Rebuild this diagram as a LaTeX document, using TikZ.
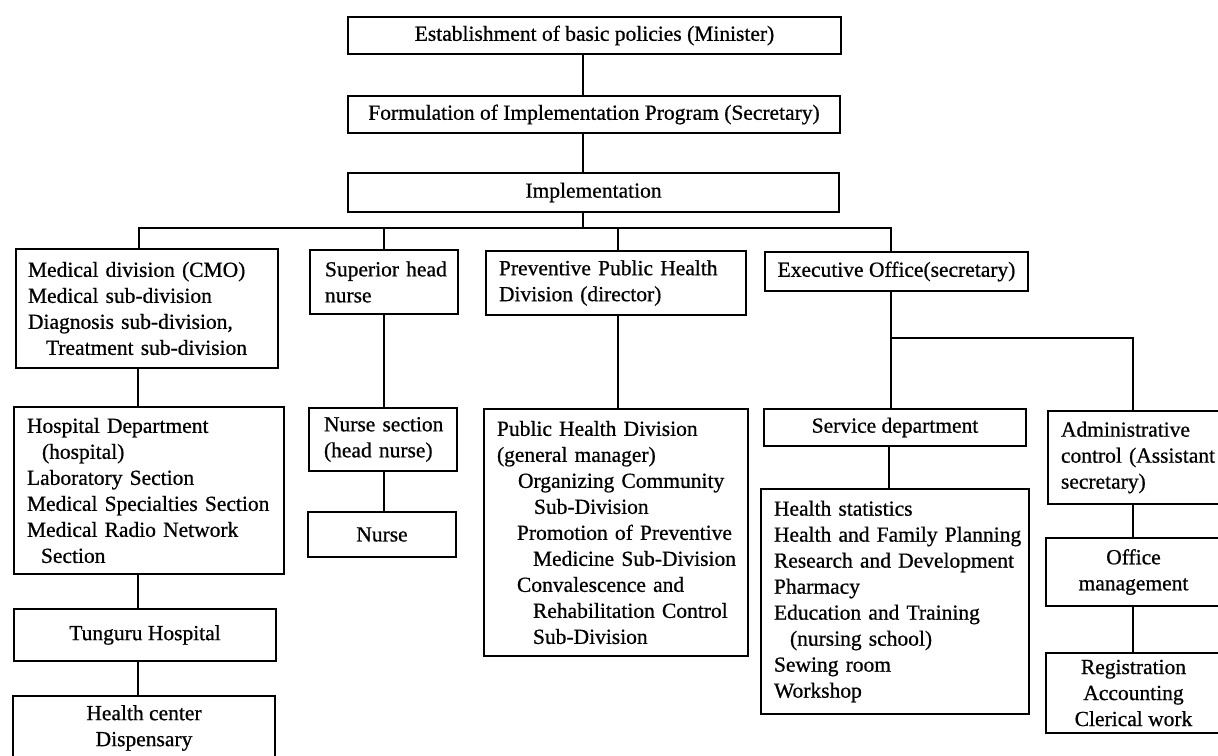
\documentclass[tikz,border=0pt]{standalone}
\usepackage{fontspec}
\setmainfont{Liberation Serif}[FakeBold=0.7]
% one line of a left-aligned box, optionally indented
\newcommand\rowtxt[2][0pt]{\mbox{\hspace*{#1}#2}}
\begin{document}
\begin{tikzpicture}[x=1pt,y=-1pt,
  box/.style={draw, line width=2pt, inner ysep=0pt, anchor=north west,
              font=\fontsize{21.5}{26}\selectfont},
  cbox/.style={box, align=center, inner xsep=0pt},
  lbox/.style={box, align=left},
  link/.style={line width=2.2pt}]
\clip (0,0) rectangle (1218,755);
\fill[white] (0,0) rectangle (1218,755);

% top chain
\node[cbox, minimum width=493pt, minimum height=37pt] (est) at (347,16)
  {Establishment of basic policies (Minister)};
\node[cbox, minimum width=492pt, minimum height=37pt] (form) at (347,95)
  {Formulation of Implementation Program (Secretary)};
\node[cbox, minimum width=491pt, minimum height=39pt] (impl) at (347,172)
  {Implementation};

% medical branch
\node[lbox, text width=238pt, inner xsep=12pt, minimum height=119pt] (med) at (15,248)
  {\rowtxt{Medical division (CMO)}\\
   \rowtxt{Medical sub-division}\\
   \rowtxt{Diagnosis sub-division,}\\
   \rowtxt[18pt]{Treatment sub-division}};
\node[lbox, text width=244pt, inner xsep=13pt, minimum height=167pt] (hosp) at (13,406)
  {\rowtxt{Hospital Department}\\
   \rowtxt[15pt]{(hospital)}\\
   \rowtxt{Laboratory Section}\\
   \rowtxt{Medical Specialties Section}\\
   \rowtxt{Medical Radio Network}\\
   \rowtxt[14pt]{Section}};
\node[cbox, minimum width=262pt, minimum height=52pt] (tung) at (13,608)
  {Tunguru Hospital};
\node[cbox, minimum width=262pt, minimum height=64pt] (hc) at (12,695)
  {Health center\\Dispensary};

% nursing branch
\node[lbox, text width=118pt, inner xsep=15pt, minimum height=64pt] (sup) at (309,249)
  {\rowtxt{Superior head}\\\rowtxt{nurse}};
\node[lbox, text width=118pt, inner xsep=15pt, minimum height=63pt] (nsec) at (308,407)
  {\rowtxt{Nurse section}\\\rowtxt{(head nurse)}};
\node[cbox, minimum width=148pt, minimum height=45pt] (nurse) at (307,511)
  {Nurse};

% preventive health branch
\node[lbox, text width=234pt, inner xsep=13pt, minimum height=64pt] (prev) at (485,250)
  {\rowtxt{Preventive Public Health}\\\rowtxt{Division (director)}};
\node[lbox, text width=238pt, inner xsep=13pt, minimum height=247pt] (phd) at (483,408)
  {\rowtxt{Public Health Division}\\
   \rowtxt{(general manager)}\\
   \rowtxt[21pt]{Organizing Community}\\
   \rowtxt[37pt]{Sub-Division}\\
   \rowtxt[20pt]{Promotion of Preventive}\\
   \rowtxt[36pt]{Medicine Sub-Division}\\
   \rowtxt[20pt]{Convalescence and}\\
   \rowtxt[36pt]{Rehabilitation Control}\\
   \rowtxt[36pt]{Sub-Division}};

% executive branch
\node[cbox, minimum width=263pt, minimum height=39pt] (exec) at (764,251)
  {Executive Office(secretary)};
\node[cbox, minimum width=262pt, minimum height=37pt] (serv) at (763,408)
  {Service department};
\node[lbox, text width=242pt, inner xsep=13pt, minimum height=225pt] (stats) at (760,488)
  {\rowtxt{Health statistics}\\
   \rowtxt{Health and Family Planning}\\
   \rowtxt{Research and Development}\\
   \rowtxt{Pharmacy}\\
   \rowtxt{Education and Training}\\
   \rowtxt[16pt]{(nursing school)}\\
   \rowtxt{Sewing room}\\
   \rowtxt{Workshop}};
\node[lbox, text width=147pt, inner xsep=13pt, minimum height=93pt] (admin) at (1047,410)
  {\rowtxt{Administrative}\\\rowtxt{control (Assistant}\\\rowtxt{secretary)}};
\node[cbox, minimum width=175pt, minimum height=68pt] (office) at (1045,537)
  {Office\\management};
\node[cbox, minimum width=175pt, minimum height=80pt] (reg) at (1045,652)
  {Registration\\Accounting\\Clerical work};

% connector positions
\coordinate (spine) at (583,0);
\coordinate (busL) at (139,228);
\coordinate (busR) at (891,228);
\coordinate (xmed) at (138,0);
\coordinate (xsup) at (384,0);
\coordinate (xprev) at (618,0);
\coordinate (bus2L) at (891,338);
\coordinate (bus2R) at (1133,338);
\coordinate (xserv) at (889,0);

% connectors
\draw[link] (est.south -| spine) -- (form.north -| spine);
\draw[link] (form.south -| spine) -- (impl.north -| spine);
\draw[link] (impl.south -| spine) -- (spine |- busL);
\draw[link] (med.north -| busL) -- (busL) -- (busR) -- (exec.north -| busR);
\draw[link] (sup.north -| xsup) -- (xsup |- busL);
\draw[link] (prev.north -| xprev) -- (xprev |- busL);

\draw[link] (med.south -| xmed) -- (hosp.north -| xmed);
\draw[link] (hosp.south -| xmed) -- (tung.north -| xmed);
\draw[link] (tung.south -| xmed) -- (hc.north -| xmed);

\draw[link] (sup.south -| xsup) -- (nsec.north -| xsup);
\draw[link] (nsec.south -| xsup) -- (nurse.north -| xsup);

\draw[link] (prev.south -| xprev) -- (phd.north -| xprev);

\draw[link] (exec.south -| bus2L) -- (serv.north -| bus2L);
\draw[link] (bus2L) -- (bus2R) -- (admin.north -| bus2R);
\draw[link] (serv.south -| xserv) -- (stats.north -| xserv);
\draw[link] (admin.south -| bus2R) -- (office.north -| bus2R);
\draw[link] (office.south -| bus2R) -- (reg.north -| bus2R);
\end{tikzpicture}
\end{document}
